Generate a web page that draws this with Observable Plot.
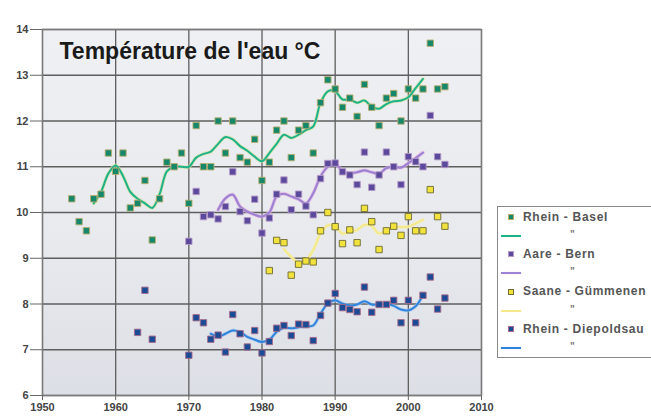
<!DOCTYPE html>
<html><head><meta charset="utf-8">
<script src="https://cdn.jsdelivr.net/npm/d3@7"></script>
<script src="https://cdn.jsdelivr.net/npm/@observablehq/plot@0.6"></script>
<style>
body{margin:0;background:#fff;}
#wrap{position:relative;width:651px;height:419px;overflow:hidden;font-family:"Liberation Sans",Arial,sans-serif;}
#legend{position:absolute;left:497px;top:206px;width:170px;height:152px;border:1px solid #8a8a8a;background:#fff;box-sizing:border-box;}
#legend .mk{position:absolute;width:6px;height:6px;box-sizing:border-box;}
#legend .ln{position:absolute;height:2px;width:20px;}
#legend .tx{position:absolute;font-size:12px;letter-spacing:0.7px;font-weight:bold;color:#555;line-height:13px;white-space:nowrap;}
#legend .dt{position:absolute;font-size:10px;font-weight:bold;color:#777;line-height:10px;}
</style></head>
<body><div id="wrap"></div>
<script>
// Rhein - Basel
const baselYears = [1954,1955,1956,1957,1958,1959,1960,1961,1962,1963,1964,1965,1966,1967,1968,1969,1970,1971,1972,1973,1974,1975,1976,1977,1978,1979,1980,1981,1982,1983,1984,1985,1986,1987,1988,1989,1990,1991,1992,1993,1994,1995,1996,1997,1998,1999,2000,2001,2002,2003,2004,2005];
const baselTemps = [10.3,9.8,9.6,10.3,10.4,11.3,10.9,11.3,10.1,10.2,10.7,9.4,10.3,11.1,11.0,11.3,10.2,11.9,11.0,11.0,12.0,11.3,12.0,11.2,11.1,11.6,10.7,11.1,11.8,12.0,11.2,11.8,11.9,11.3,12.4,12.9,12.7,12.3,12.5,12.1,12.8,12.3,11.9,12.5,12.6,12.0,12.7,12.5,12.7,13.7,12.7,12.75];
const baselTrendYears = [1957,1958,1959,1960,1961,1962,1963,1964,1965,1966,1967,1968,1969,1970,1971,1972,1973,1974,1975,1976,1977,1978,1979,1980,1981,1982,1983,1984,1985,1986,1987,1988,1989,1990,1991,1992,1993,1994,1995,1996,1997,1998,1999,2000,2001,2002];
const baselTrend = [10.2,10.45,10.85,11.03,10.8,10.45,10.3,10.2,10.1,10.4,10.9,11.0,11.0,11.0,11.2,11.28,11.33,11.5,11.65,11.6,11.45,11.35,11.22,11.12,11.3,11.5,11.7,11.63,11.7,11.8,11.88,12.4,12.65,12.65,12.47,12.47,12.4,12.45,12.31,12.27,12.37,12.43,12.45,12.52,12.72,12.92];

// Aare - Bern
const bernYears = [1970,1971,1972,1973,1974,1975,1976,1977,1978,1979,1980,1981,1982,1983,1984,1985,1986,1987,1988,1989,1990,1991,1992,1993,1994,1995,1996,1997,1998,1999,2000,2001,2002,2003,2004,2005];
const bernTemps = [9.37,10.46,9.91,9.95,9.86,10.13,10.89,10.02,9.82,10.29,9.55,9.88,10.4,10.71,10.06,10.4,10.14,9.95,10.74,11.07,11.08,10.89,10.82,10.61,11.32,10.55,10.82,11.32,11.0,10.61,11.22,11.11,11.0,12.12,11.22,11.05];
const bernTrendYears = [1974,1975,1976,1977,1978,1979,1980,1981,1982,1983,1984,1985,1986,1987,1988,1989,1990,1991,1992,1993,1994,1995,1996,1997,1998,1999,2000,2001,2002];
const bernTrend = [10.06,10.31,10.39,10.13,10.02,9.95,9.91,10.0,10.35,10.41,10.35,10.29,10.2,10.42,10.79,11.0,11.07,10.9,10.86,10.88,10.92,10.88,10.85,10.97,11.0,10.98,11.08,11.19,11.31];

// Saane - Gümmenen
const saaneYears = [1981,1982,1983,1984,1985,1986,1987,1988,1989,1990,1991,1992,1993,1994,1995,1996,1997,1998,1999,2000,2001,2002,2003,2004,2005];
const saaneTemps = [8.73,9.39,9.34,8.63,8.87,8.94,8.92,9.6,10.0,9.69,9.32,9.62,9.34,10.09,9.8,9.19,9.6,9.7,9.5,9.91,9.6,9.6,10.5,9.91,9.7];
const saaneTrendYears = [1983,1984,1985,1986,1987,1988,1989,1990,1991,1992,1993,1994,1995,1996,1997,1998,1999,2000,2001,2002];
const saaneTrend = [9.2,9.03,8.9,8.95,9.18,9.54,9.72,9.7,9.54,9.58,9.62,9.73,9.7,9.54,9.62,9.69,9.68,9.69,9.76,9.84];

// Rhein - Diepoldsau
const diepYears = [1963,1964,1965,1970,1971,1972,1973,1974,1975,1976,1977,1978,1979,1980,1981,1982,1983,1984,1985,1986,1987,1988,1989,1990,1991,1992,1993,1994,1995,1996,1997,1998,1999,2000,2001,2002,2003,2004,2005];
const diepTemps = [7.38,8.3,7.23,6.88,7.7,7.59,7.23,7.32,6.95,7.77,7.35,7.06,7.42,6.93,7.18,7.47,7.53,7.31,7.56,7.55,7.2,7.75,8.02,8.23,7.92,7.88,7.83,8.37,7.82,7.99,7.99,8.08,7.59,8.08,7.59,8.19,8.59,7.89,8.13];
const diepTrendYears = [1973,1974,1975,1976,1977,1978,1979,1980,1981,1982,1983,1984,1985,1986,1987,1988,1989,1990,1991,1992,1993,1994,1995,1996,1997,1998,1999,2000,2001,2002];
const diepTrend = [7.35,7.29,7.35,7.42,7.39,7.28,7.22,7.17,7.22,7.39,7.48,7.47,7.49,7.51,7.53,7.79,8.01,8.08,8.01,7.97,7.99,8.06,7.99,7.99,8.0,7.96,7.88,7.86,7.95,8.19];

const xTicks = [1950,1960,1970,1980,1990,2000,2010];
const yTicks = [6,7,8,9,10,11,12,13,14];
const title = "Température de l'eau °C";

const seriesNames = ["Rhein - Basel","Aare - Bern","Saane - Gümmenen","Rhein - Diepoldsau"];
const series = [
  {name: seriesNames[0], years: baselYears, temps: baselTemps, ty: baselTrendYears, tv: baselTrend,
   fill:"#15876a", stroke:"#b9ad6e", line:"#1db28a", halo:"#d9e29a", lw:2},
  {name: seriesNames[1], years: bernYears, temps: bernTemps, ty: bernTrendYears, tv: bernTrend,
   fill:"#5b4a9c", stroke:"#b59ac8", line:"#9b82d2", halo:"#efb8e6", lw:2.2},
  {name: seriesNames[2], years: saaneYears, temps: saaneTemps, ty: saaneTrendYears, tv: saaneTrend,
   fill:"#f2e33c", stroke:"#6e6a34", line:"#f4e98a", halo:"#f7f0b8", lw:2},
  {name: seriesNames[3], years: diepYears, temps: diepTemps, ty: diepTrendYears, tv: diepTrend,
   fill:"#1c4b96", stroke:"#a86b8a", line:"#2e84dc", halo:"#a9c8ee", lw:2}
];

const marks = [];
marks.push(() => {
  const g = d3.create("svg:defs");
  const lg = g.append("linearGradient").attr("id","bg").attr("x1",0).attr("y1",0).attr("x2",0).attr("y2",1);
  lg.append("stop").attr("offset","0%").attr("stop-color","#eef0f3");
  lg.append("stop").attr("offset","55%").attr("stop-color","#e8eaee");
  lg.append("stop").attr("offset","100%").attr("stop-color","#dcdfe5");
  return g.node();
});
marks.push(Plot.frame({fill:"url(#bg)"}));
marks.push(Plot.gridX(xTicks, {stroke:"#5e5e5e", strokeOpacity:1, strokeWidth:1.3}));
marks.push(Plot.gridY(yTicks, {stroke:"#5e5e5e", strokeOpacity:1, strokeWidth:1.3}));
marks.push(Plot.frame({stroke:"#7a7a7a", strokeWidth:1.3}));
for (const s of series) {
  const tr = s.ty.map((y,i) => ({year:y, t:s.tv[i]}));
  marks.push(Plot.line(tr, {x:"year", y:"t", stroke:s.halo, strokeWidth:s.lw+1.6, strokeOpacity:0.7, curve:"catmull-rom"}));
  marks.push(Plot.line(tr, {x:"year", y:"t", stroke:s.line, strokeWidth:s.lw, curve:"catmull-rom"}));
}
for (const s of series) {
  const pts = s.years.map((y,i) => ({year:y, t:s.temps[i]}));
  marks.push(Plot.dot(pts, {x:"year", y:"t", symbol:"square", r:3.6, fill:s.fill, stroke:s.stroke, strokeWidth:0.9}));
}
marks.push(Plot.axisY(yTicks, {tickSize:12, tickPadding:2, fontSize:11, fontWeight:"bold", fill:"#444", stroke:"#666", label:null}));
marks.push(Plot.axisX(xTicks, {tickSize:5, tickPadding:3, fontSize:11, fontWeight:"bold", fill:"#444", stroke:"#666", label:null, tickFormat:d=>String(d)}));
marks.push(Plot.text([title], {frameAnchor:"top-left", dx:17, dy:22.6, fontSize:23, fontWeight:"bold", fill:"#1a1a1a", textAnchor:"start", lineAnchor:"middle"}));

const chart = Plot.plot({
  width:651, height:419,
  marginLeft:42, marginRight:170, marginTop:29, marginBottom:24,
  style:{fontFamily:"'Liberation Sans', Arial, sans-serif", background:"#fff"},
  x:{domain:[1950,2010]},
  y:{domain:[6,14]},
  marks
});
const wrap = document.getElementById("wrap");
wrap.appendChild(chart);

// legend
const leg = document.createElement("div");
leg.id = "legend";
series.forEach((s,i) => {
  const off = i*37.4;
  const mk = document.createElement("div");
  mk.className = "mk";
  mk.style.left = "10px"; mk.style.top = (7+off)+"px";
  mk.style.background = s.fill; mk.style.border = "1px solid "+s.stroke;
  leg.appendChild(mk);
  const tx = document.createElement("div");
  tx.className = "tx"; tx.textContent = s.name;
  tx.style.left = "25px"; tx.style.top = (3.5+off)+"px";
  leg.appendChild(tx);
  const ln = document.createElement("div");
  ln.className = "ln";
  ln.style.left = "3px"; ln.style.top = (28+off)+"px";
  ln.style.background = s.line;
  ln.style.boxShadow = "0 0 1px "+s.halo;
  leg.appendChild(ln);
  const dt = document.createElement("div");
  dt.className = "dt"; dt.textContent = "\"";
  dt.style.left = "72px"; dt.style.top = (23+off)+"px";
  leg.appendChild(dt);
});
wrap.appendChild(leg);
</script>
</body></html>
